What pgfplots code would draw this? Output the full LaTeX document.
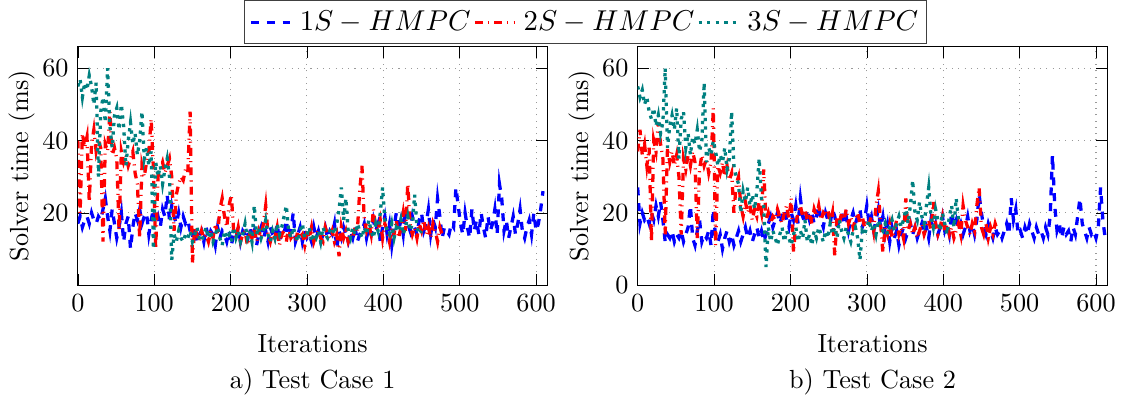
\documentclass[border=0pt]{standalone}
\usepackage{pgfplots}
\pgfplotsset{compat=1.18}
\begin{document}
\begin{tikzpicture}
\pgfplotsset{
  hm/.style={
    width=179.3pt, height=91pt, scale only axis,
    xmin=0, xmax=615, ymin=0, ymax=66,
    xtick={0,100,...,600},
    grid=major, major grid style={dotted, gray!80},
    tick style={black},
    xlabel={Iterations}, ylabel={Solver time (ms)},
    xlabel style={yshift=-2pt},
    ylabel style={at={(axis description cs:-0.119,0.5)}, anchor=center},
    title style={at={(0.5,0)}, anchor=center, yshift=-43pt},
  },
  s1/.style={blue, dashed, line width=1.25pt},
  s2/.style={red, dashdotted, line width=1.25pt},
  s3/.style={teal, dotted, line width=1.25pt},
}
\path (-29.7pt,-43.9pt) rectangle (399.7pt,108.8pt);
\begin{axis}[hm, name=left, at={(0,0)}, anchor=south west,
  ytick={20,40,60},
  title={a) Test Case 1},
  legend image code/.code={\draw[#1] (0pt,0pt) -- (15pt,0pt); \path (17pt,0pt);},
  legend style={at={(1.08,1.1956)}, anchor=north, legend columns=3,
    font=\fontsize{11}{13}\selectfont, draw=black!75, inner sep=2pt,
    nodes={inner xsep=1pt, inner ysep=1.8pt},
    /tikz/every even column/.append style={column sep=0pt}},
]
\addplot[s1] coordinates {(0,17)(3,19)(6,16)(9,18)(12,19)(15,17)(18,20)(21,18)(24,17)(27,19)(30,18)(33,21)(36,24)(39,19)(42,15)(45,21)(48,17)(51,13)(54,16)(57,20)(60,12)(63,17)(66,19)(69,10)(72,16)(75,20)(78,18)(81,21)(84,17)(87,19)(90,20)(93,14)(96,18)(99,21)(102,17)(105,19)(108,16)(111,21)(114,19)(117,25)(120,18)(123,22)(126,19)(129,17)(132,20)(135,16)(138,19)(141,17)(144,18)(147,15)(150,13)(153,16)(156,12)(159,14)(162,15)(165,12)(168,16)(171,13)(174,15)(177,14)(180,11)(183,16)(186,13)(189,15)(192,14)(195,12)(198,15)(201,11)(204,14)(207,13)(210,16)(213,12)(216,15)(219,14)(222,12)(225,16)(228,13)(231,15)(234,11)(237,14)(240,16)(243,13)(246,15)(249,12)(252,16)(255,14)(258,13)(261,17)(264,12)(267,15)(270,14)(273,18)(276,13)(279,15)(282,20)(285,12)(288,14)(291,16)(294,12)(297,15)(300,13)(303,14)(306,12)(309,16)(312,13)(315,15)(318,12)(321,14)(324,16)(327,13)(330,15)(333,14)(336,17)(339,10)(342,15)(345,13)(348,16)(351,14)(354,12)(357,15)(360,13)(363,16)(366,12)(369,14)(372,15)(375,17)(378,13)(381,16)(384,14)(387,18)(390,15)(393,17)(396,12)(399,16)(402,19)(405,14)(408,17)(411,11)(414,16)(417,20)(420,15)(423,18)(426,14)(429,21)(432,17)(435,15)(438,19)(441,16)(444,14)(447,18)(450,20)(453,15)(456,17)(459,21)(462,14)(465,18)(468,16)(471,24)(474,19)(477,13)(480,16)(483,15)(486,14)(489,17)(492,16)(495,27)(498,22)(501,17)(504,14)(507,20)(510,16)(513,13)(516,21)(519,15)(522,18)(525,14)(528,20)(531,16)(534,13)(537,19)(540,15)(543,17)(546,21)(549,14)(552,28)(555,24)(558,15)(561,18)(564,13)(567,16)(570,19)(573,14)(576,17)(579,21)(582,15)(585,13)(588,16)(591,18)(594,14)(597,20)(600,15)(603,17)(606,21)(609,26)};
\addlegendentry{$1S-HMPC$}
\addplot[s2] coordinates {(0,40)(3,20)(6,42)(9,38)(12,41)(15,23)(18,39)(21,43)(24,37)(27,40)(30,38)(33,12)(36,39)(39,37)(42,48)(45,36)(48,38)(51,35)(54,15)(57,37)(60,34)(63,36)(66,33)(69,35)(72,37)(75,31)(78,28)(81,13)(84,33)(87,30)(90,34)(93,37)(96,46)(99,32)(102,10)(105,30)(108,32)(111,34)(114,31)(117,33)(120,35)(123,30)(126,15)(129,25)(132,28)(135,30)(138,29)(141,32)(144,31)(147,48)(150,6)(153,16)(156,14)(159,12)(162,15)(165,13)(168,14)(171,12)(174,15)(177,13)(180,17)(183,14)(186,21)(189,24)(192,19)(195,16)(198,22)(201,25)(204,15)(207,13)(210,16)(213,12)(216,14)(219,15)(222,11)(225,14)(228,13)(231,16)(234,12)(237,15)(240,13)(243,17)(246,22)(249,14)(252,12)(255,15)(258,13)(261,16)(264,11)(267,14)(270,15)(273,12)(276,16)(279,13)(282,14)(285,12)(288,15)(291,13)(294,14)(297,11)(300,15)(303,13)(306,16)(309,12)(312,14)(315,15)(318,13)(321,12)(324,16)(327,14)(330,13)(333,15)(336,12)(339,14)(342,8)(345,16)(348,13)(351,15)(354,12)(357,14)(360,13)(363,16)(366,15)(369,26)(372,33)(375,18)(378,15)(381,17)(384,14)(387,21)(390,16)(393,15)(396,18)(399,13)(402,17)(405,15)(408,12)(411,16)(414,14)(417,18)(420,13)(423,16)(426,20)(429,15)(432,28)(435,17)(438,14)(441,16)(444,13)(447,17)(450,15)(453,18)(456,14)(459,16)(462,13)(465,17)(468,15)(471,12)(474,16)(477,14)};
\addlegendentry{$2S-HMPC$}
\addplot[s3] coordinates {(0,55)(3,57)(6,52)(9,56)(12,54)(15,58)(18,55)(21,50)(24,56)(27,30)(30,48)(33,52)(36,45)(39,60)(42,44)(45,38)(48,47)(51,49)(54,43)(57,50)(60,44)(63,33)(66,40)(69,45)(72,39)(75,42)(78,36)(81,40)(84,48)(87,35)(90,38)(93,33)(96,37)(99,10)(102,34)(105,30)(108,33)(111,28)(114,32)(117,35)(120,30)(123,7)(126,14)(129,12)(132,15)(135,13)(138,12)(141,14)(144,13)(147,15)(150,12)(153,14)(156,16)(159,13)(162,12)(165,14)(168,16)(171,13)(174,15)(177,12)(180,14)(183,16)(186,13)(189,11)(192,15)(195,13)(198,14)(201,12)(204,16)(207,13)(210,15)(213,12)(216,14)(219,17)(222,13)(225,15)(228,12)(231,22)(234,14)(237,16)(240,13)(243,15)(246,18)(249,14)(252,12)(255,15)(258,13)(261,17)(264,14)(267,16)(270,19)(273,22)(276,15)(279,13)(282,16)(285,14)(288,12)(291,15)(294,17)(297,13)(300,14)(303,16)(306,12)(309,14)(312,13)(315,15)(318,12)(321,16)(324,14)(327,13)(330,15)(333,16)(336,14)(339,17)(342,21)(345,27)(348,18)(351,24)(354,15)(357,13)(360,16)(363,14)(366,17)(369,15)(372,13)(375,16)(378,14)(381,18)(384,15)(387,13)(390,17)(393,15)(396,20)(399,27)(402,18)(405,15)(408,14)(411,17)(414,13)(417,16)(420,15)(423,18)(426,14)(429,16)(432,19)(435,15)(438,17)(441,25)(444,16)(447,14)(450,15)};
\addlegendentry{$3S-HMPC$}
\end{axis}
\begin{axis}[hm, name=right, at={(213.7pt,0)}, anchor=south west,
  ytick={0,20,40,60},
  title={b) Test Case 2},
]
\addplot[s1] coordinates {(0,27)(3,17)(6,20)(9,18)(12,19)(15,17)(18,20)(21,18)(24,22)(27,19)(30,23)(33,18)(36,12)(39,14)(42,13)(45,15)(48,12)(51,14)(54,13)(57,15)(60,12)(63,14)(66,16)(69,22)(72,13)(75,11)(78,15)(81,18)(84,12)(87,14)(90,13)(93,15)(96,11)(99,21)(102,13)(105,12)(108,14)(111,10)(114,13)(117,15)(120,12)(123,14)(126,11)(129,13)(132,15)(135,12)(138,14)(141,16)(144,13)(147,15)(150,12)(153,14)(156,16)(159,13)(162,15)(165,12)(168,14)(171,17)(174,19)(177,16)(180,18)(183,20)(186,17)(189,19)(192,21)(195,18)(198,16)(201,20)(204,18)(207,22)(210,17)(213,24)(216,19)(219,17)(222,21)(225,18)(228,20)(231,17)(234,19)(237,22)(240,18)(243,16)(246,20)(249,18)(252,17)(255,21)(258,19)(261,16)(264,18)(267,20)(270,17)(273,19)(276,15)(279,18)(282,20)(285,17)(288,19)(291,21)(294,16)(297,18)(300,22)(303,17)(306,19)(309,15)(312,18)(315,21)(318,16)(321,19)(324,14)(327,17)(330,12)(333,16)(336,13)(339,15)(342,11)(345,14)(348,16)(351,13)(354,15)(357,17)(360,14)(363,16)(366,13)(369,15)(372,17)(375,14)(378,16)(381,13)(384,18)(387,15)(390,17)(393,14)(396,16)(399,19)(402,15)(405,17)(408,14)(411,20)(414,16)(417,18)(420,15)(423,17)(426,14)(429,16)(432,19)(435,15)(438,17)(441,14)(444,18)(447,25)(450,20)(453,16)(456,14)(459,17)(462,15)(465,13)(468,16)(471,14)(474,15)(477,13)(480,15)(483,17)(486,14)(489,24)(492,18)(495,21)(498,14)(501,15)(504,13)(507,16)(510,14)(513,17)(516,15)(519,13)(522,16)(525,14)(528,15)(531,13)(534,16)(537,14)(540,19)(543,36)(546,22)(549,15)(552,17)(555,13)(558,16)(561,14)(564,15)(567,12)(570,16)(573,14)(576,19)(579,24)(582,17)(585,15)(588,13)(591,16)(594,14)(597,15)(600,13)(603,16)(606,27)(609,18)(612,13)};
\addplot[s2] coordinates {(0,37)(3,43)(6,36)(9,39)(12,33)(15,38)(18,12)(21,40)(24,37)(27,45)(30,39)(33,35)(36,14)(39,38)(42,34)(45,37)(48,33)(51,36)(54,30)(57,14)(60,35)(63,32)(66,36)(69,33)(72,37)(75,34)(78,13)(81,32)(84,36)(87,33)(90,35)(93,31)(96,34)(99,49)(102,11)(105,33)(108,31)(111,34)(114,30)(117,33)(120,29)(123,31)(126,20)(129,28)(132,30)(135,22)(138,19)(141,23)(144,20)(147,22)(150,18)(153,21)(156,19)(159,23)(162,20)(165,32)(168,18)(171,20)(174,17)(177,19)(180,18)(183,21)(186,19)(189,17)(192,20)(195,22)(198,18)(201,24)(204,9)(207,17)(210,20)(213,22)(216,19)(219,21)(222,18)(225,20)(228,17)(231,21)(234,19)(237,22)(240,18)(243,20)(246,19)(249,21)(252,17)(255,20)(258,8)(261,19)(264,17)(267,20)(270,18)(273,21)(276,17)(279,19)(282,16)(285,18)(288,20)(291,17)(294,19)(297,16)(300,18)(303,17)(306,19)(309,15)(312,22)(315,26)(318,17)(321,9)(324,16)(327,14)(330,17)(333,13)(336,15)(339,18)(342,14)(345,16)(348,13)(351,24)(354,15)(357,17)(360,14)(363,16)(366,13)(369,15)(372,17)(375,14)(378,16)(381,18)(384,15)(387,23)(390,17)(393,14)(396,16)(399,19)(402,15)(405,17)(408,14)(411,16)(414,13)(417,15)(420,17)(423,14)(426,22)(429,18)(432,16)(435,14)(438,17)(441,15)(444,22)(447,27)(450,16)(453,14)(456,17)(459,13)(462,16)(465,14)(468,17)(471,15)};
\addplot[s3] coordinates {(0,55)(3,52)(6,54)(9,50)(12,52)(15,48)(18,46)(21,49)(24,44)(27,47)(30,42)(33,45)(36,60)(39,38)(42,44)(45,47)(48,43)(51,49)(54,35)(57,46)(60,48)(63,38)(66,42)(69,36)(72,41)(75,39)(78,43)(81,37)(84,40)(87,56)(90,34)(93,38)(96,36)(99,40)(102,37)(105,33)(108,36)(111,34)(114,38)(117,32)(120,35)(123,48)(126,33)(129,30)(132,28)(135,20)(138,26)(141,23)(144,27)(147,22)(150,25)(153,21)(156,26)(159,35)(162,24)(165,22)(168,5)(171,16)(174,12)(177,15)(180,13)(183,11)(186,14)(189,16)(192,12)(195,15)(198,13)(201,11)(204,14)(207,16)(210,12)(213,15)(216,13)(219,18)(222,12)(225,14)(228,11)(231,15)(234,13)(237,16)(240,14)(243,12)(246,15)(249,13)(252,17)(255,14)(258,16)(261,13)(264,18)(267,15)(270,13)(273,16)(276,14)(279,12)(282,15)(285,16)(288,13)(291,7)(294,15)(297,14)(300,16)(303,18)(306,15)(309,17)(312,14)(315,18)(318,16)(321,15)(324,17)(327,14)(330,16)(333,18)(336,15)(339,17)(342,19)(345,16)(348,18)(351,21)(354,17)(357,22)(360,29)(363,20)(366,18)(369,23)(372,19)(375,17)(378,22)(381,27)(384,19)(387,16)(390,21)(393,18)(396,15)(399,20)(402,17)(405,14)(408,19)(411,22)(414,16)(417,24)(420,18)};
\end{axis}
\end{tikzpicture}
\end{document}
